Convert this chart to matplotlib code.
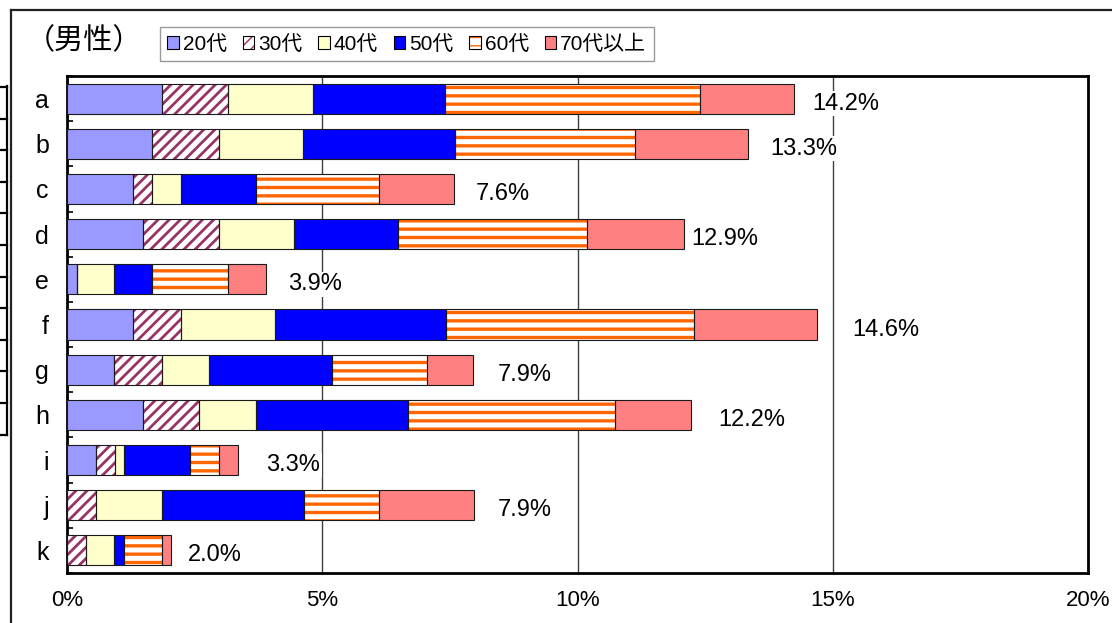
import matplotlib
matplotlib.use('Agg')
import matplotlib.pyplot as plt
from matplotlib import font_manager
from matplotlib.patches import Patch
from matplotlib.lines import Line2D
import numpy as np

# ---------------- data ----------------
categories = ['a', 'b', 'c', 'd', 'e', 'f', 'g', 'h', 'i', 'j', 'k']
series_names = ['20代', '30代', '40代', '50代', '60代', '70代以上']
s20 = [1.86, 1.67, 1.30, 1.49, 0.19, 1.30, 0.93, 1.48, 0.56, 0.00, 0.00]
s30 = [1.30, 1.30, 0.37, 1.48, 0.00, 0.93, 0.94, 1.11, 0.38, 0.56, 0.37]
s40 = [1.65, 1.66, 0.56, 1.47, 0.74, 1.85, 0.92, 1.12, 0.18, 1.30, 0.55]
s50 = [2.60, 2.97, 1.48, 2.04, 0.74, 3.34, 2.41, 2.96, 1.29, 2.78, 0.20]
s60 = [4.99, 3.52, 2.40, 3.70, 1.49, 4.87, 1.85, 4.07, 0.56, 1.48, 0.74]
s70 = [1.85, 2.22, 1.48, 1.90, 0.74, 2.41, 0.91, 1.48, 0.37, 1.85, 0.18]
total_labels = ['14.2%', '13.3%', '7.6%', '12.9%', '3.9%', '14.6%',
                '7.9%', '12.2%', '3.3%', '7.9%', '2.0%']
xticks = [0, 5, 10, 15, 20]
xtick_labels = ['0%', '5%', '10%', '15%', '20%']
title = '（男性）'

# ---------------- styles ----------------
face_colors = ['#9999FF', 'white', '#FFFFCC', '#0000FF', 'white', '#FF8080']
hatches = [None, '///', None, None, '--', None]
hatch_colors = ['none', '#993366', 'none', 'none', '#FF6600', 'none']
hatch_lws = [1.0, 2.0, 1.0, 1.0, 2.4, 1.0]
label_dx_px = [18, 22, 21, 8, 22, 35, 24, 27, 29, 24, 17]
label_dy_px = 5

names = {f.name for f in font_manager.fontManager.ttflist}
narrow = 'Liberation Sans Narrow' if 'Liberation Sans Narrow' in names else 'Liberation Sans'
plt.rcParams['font.family'] = [narrow, 'Noto Sans CJK JP', 'DejaVu Sans']

W, H = 1112, 623
fig = plt.figure(figsize=(W / 100, H / 100), dpi=100)
ax = fig.add_axes([67 / W, 1 - 573 / H, (1088 - 67) / W, (573 - 76) / H])

series = [s20, s30, s40, s50, s60, s70]
y = np.arange(len(categories))
left = np.zeros(len(categories))
bar_h = 0.665
for vals, fc, ht, hc, hlw in zip(series, face_colors, hatches, hatch_colors, hatch_lws):
    vals = np.array(vals)
    with plt.rc_context({'hatch.linewidth': hlw}):
        bars = ax.barh(y, vals, left=left, height=bar_h, color=fc, hatch=ht,
                       edgecolor=hc, linewidth=0, zorder=3)
        for b in bars:
            if hasattr(b, 'set_hatch_linewidth'):
                b.set_hatch_linewidth(hlw)
    ax.barh(y, vals, left=left, height=bar_h, fill=False,
            edgecolor='#1a1a1a', linewidth=0.8, zorder=4)
    left = left + vals

totals = left
for i, (t, lab) in enumerate(zip(totals, total_labels)):
    ax.annotate(lab, xy=(t, i), xytext=(label_dx_px[i] * 0.72, -label_dy_px * 0.72),
                textcoords='offset points', ha='left', va='center', fontsize=17,
                bbox=dict(facecolor='white', edgecolor='none', pad=1), zorder=5)

ax.set_xlim(0, 20)
ax.set_ylim(len(categories) - 0.5, -0.5)
ax.set_xticks(xticks)
ax.set_xticklabels(xtick_labels, fontsize=16)
ax.set_yticks(y)
ax.set_yticklabels(categories, fontsize=18)
ax.set_yticks(np.arange(len(categories) + 1) - 0.5, minor=True)
ax.tick_params(axis='y', which='major', length=0, pad=13)
ax.tick_params(axis='y', which='minor', length=4, width=1.2, direction='in', color='black')
ax.tick_params(axis='x', which='major', length=0, pad=12)
ax.xaxis.grid(True, color='#404040', linewidth=1.0, zorder=1)
ax.set_axisbelow(True)
for sp in ax.spines.values():
    sp.set_linewidth(2.0)
    sp.set_color('black')

# legend
handles = []
for fc, ht, hc, hlw in zip(face_colors, hatches, hatch_colors, hatch_lws):
    with plt.rc_context({'hatch.linewidth': min(hlw, 1.5)}):
        p1 = Patch(facecolor=fc, hatch=ht, edgecolor=hc, linewidth=0)
    p2 = Patch(fill=False, edgecolor='black', linewidth=0.8)
    handles.append((p1, p2))
leg = fig.legend(handles, series_names, loc='upper left',
                 bbox_to_anchor=(160 / W, 1 - 27 / H), ncol=6, fontsize=15,
                 frameon=True, fancybox=False, edgecolor='#808080',
                 handlelength=0.55, handleheight=0.55, handletextpad=0.2,
                 columnspacing=0.75, borderpad=0.35, borderaxespad=0)
leg.get_frame().set_linewidth(1.0)

fig.text(26 / W, 1 - 41 / H, title, fontsize=21, ha='left', va='center')

# outer border and left table fragment
fig.add_artist(Line2D([10.5 / W, 10.5 / W], [0, 1 - 10 / H], color='#222222', linewidth=1.6))
fig.add_artist(Line2D([10.5 / W, 1], [1 - 10 / H, 1 - 10 / H], color='#222222', linewidth=1.6))
fig.add_artist(Line2D([7 / W, 7 / W], [1 - 86 / H, 1 - 435 / H], color='black', linewidth=1.6))
for k in range(12):
    yy = 1 - (87 + k * 31.6) / H
    fig.add_artist(Line2D([0, 7 / W], [yy, yy], color='black', linewidth=1.6))

fig.savefig('out.png', dpi=100)
